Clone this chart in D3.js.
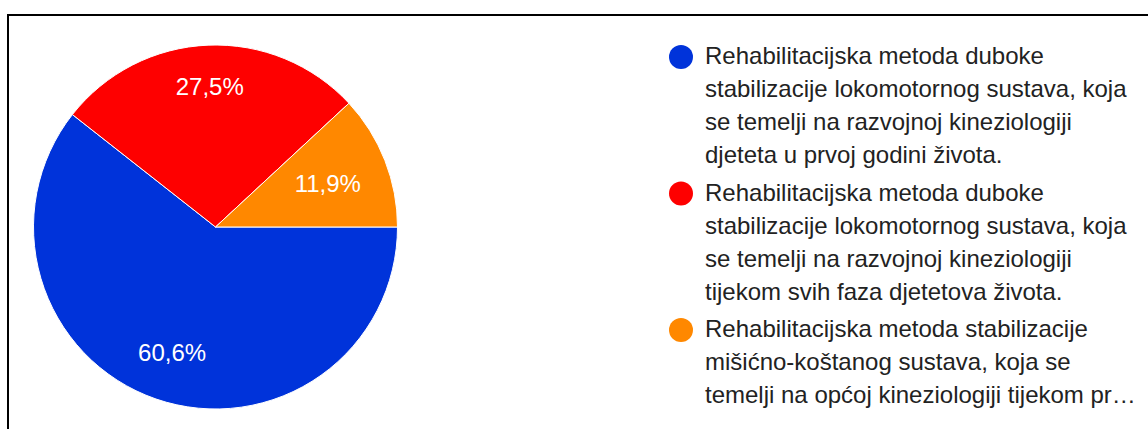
<!DOCTYPE html>
<html lang="hr">
<head>
  <meta charset="UTF-8">
  <title>Pie chart - rehabilitacijska metoda</title>
  <script src="https://d3js.org/d3.v7.min.js"></script>
  <style>
    body { margin: 0; padding: 0; background: #fff; font-family: "Liberation Sans", Arial, sans-serif; }
    svg { display: block; }
  </style>
</head>
<body>
  <svg id="chart"></svg>

  <script>
    // data
    const categories = [
      "Rehabilitacijska metoda duboke stabilizacije lokomotornog sustava, koja se temelji na razvojnoj kineziologiji djeteta u prvoj godini života.",
      "Rehabilitacijska metoda duboke stabilizacije lokomotornog sustava, koja se temelji na razvojnoj kineziologiji tijekom svih faza djetetova života.",
      "Rehabilitacijska metoda stabilizacije mišićno-koštanog sustava, koja se temelji na općoj kineziologiji tijekom prve godine života."
    ];
    const percents = [60.6, 27.5, 11.9];
    const colors = ["#0033da", "#fe0000", "#ff8800"];

    const W = 1148, H = 429;
    const cx = 215.5, cy = 227, R = 182;
    const fontSize = 24;

    const svg = d3.select("#chart").attr("width", W).attr("height", H);

    // frame (runs off the right and bottom edges)
    svg.append("rect")
      .attr("x", 8).attr("y", 15)
      .attr("width", W + 20).attr("height", H + 20)
      .attr("fill", "none")
      .attr("stroke", "#000")
      .attr("stroke-width", 2);

    const data = categories.map((c, i) => ({name: c, value: percents[i], color: colors[i]}));

    const pie = d3.pie()
      .value(d => d.value)
      .sort(null)
      .startAngle(Math.PI / 2)
      .endAngle(Math.PI / 2 + 2 * Math.PI);

    const arc = d3.arc().innerRadius(0).outerRadius(R);
    const arcs = pie(data);

    const g = svg.append("g").attr("transform", `translate(${cx},${cy})`);

    g.selectAll("path")
      .data(arcs)
      .enter().append("path")
      .attr("d", arc)
      .attr("fill", d => d.data.color)
      .attr("stroke", "#fff")
      .attr("stroke-width", 1);

    // labels: push the text box out along the bisector until its far corner reaches 0.85R
    const fmt = v => d3.format(".1f")(v).replace(".", ",") + "%";
    g.selectAll("text.lbl")
      .data(arcs)
      .enter().append("text")
      .attr("class", "lbl")
      .attr("text-anchor", "middle")
      .attr("fill", "#fff")
      .style("font-size", fontSize + "px")
      .text(d => fmt(d.data.value))
      .each(function(d) {
        const w2 = this.getComputedTextLength() / 2;
        const h2 = fontSize * 0.716 / 2;
        const a = (d.startAngle + d.endAngle) / 2;
        const ux = Math.sin(a), uy = -Math.cos(a);
        const T = R * 0.85;
        const b = Math.abs(ux) * w2 + Math.abs(uy) * h2;
        const c = w2 * w2 + h2 * h2 - T * T;
        const dist = -b + Math.sqrt(b * b - c);
        d3.select(this)
          .attr("x", dist * ux)
          .attr("y", dist * uy + h2);
      });

    // legend with word wrap and ellipsis
    const legX = 705, circX = 681, maxW = 438;
    const lineH = 33, firstBase = 64, itemGap = 4.5, bottomLimit = 410;

    const measure = svg.append("text").style("font-size", fontSize + "px").attr("visibility", "hidden");
    const textW = s => { measure.text(s); return measure.node().getComputedTextLength(); };

    function wrap(str, maxLines) {
      const words = str.split(" ");
      const lines = [];
      let cur = "";
      let i = 0;
      for (; i < words.length; i++) {
        const test = cur ? cur + " " + words[i] : words[i];
        if (textW(test) <= maxW || !cur) { cur = test; }
        else {
          lines.push(cur);
          cur = words[i];
          if (lines.length === maxLines) break;
        }
      }
      if (lines.length < maxLines) { lines.push(cur); return lines; }
      // overflow: last line gets as much as fits plus ellipsis
      let last = lines[maxLines - 1] + " " + words.slice(i).join(" ");
      while (last.length && textW(last + "…") > maxW) last = last.slice(0, -1);
      lines[maxLines - 1] = last.replace(/\s+$/, "") + "…";
      return lines;
    }

    const legend = svg.append("g");
    let base = firstBase;
    data.forEach(d => {
      const maxLines = Math.max(1, Math.floor((bottomLimit - base) / lineH) + 1);
      const lines = wrap(d.name, Math.min(4, maxLines));
      legend.append("circle")
        .attr("cx", circX).attr("cy", base - 7)
        .attr("r", 12)
        .attr("fill", d.color);
      const t = legend.append("text")
        .attr("x", legX).attr("y", base)
        .attr("fill", "#222")
        .style("font-size", fontSize + "px");
      lines.forEach((l, k) => {
        t.append("tspan").attr("x", legX).attr("y", base + k * lineH).text(l);
      });
      base += lines.length * lineH + itemGap;
    });
    measure.remove();
  </script>
</body>
</html>
